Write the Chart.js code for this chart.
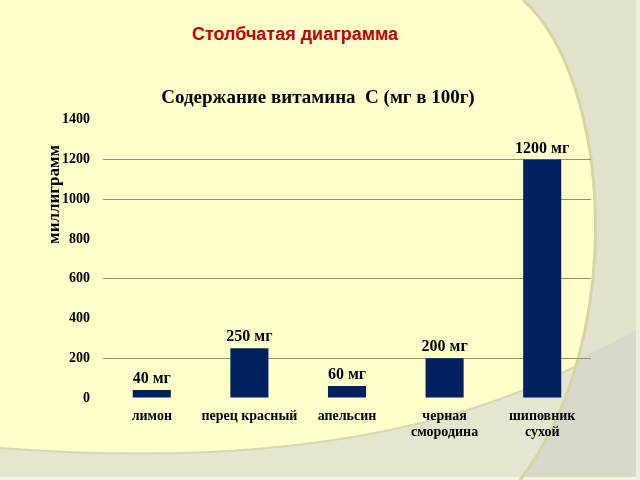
<!DOCTYPE html>
<html>
<head>
<meta charset="utf-8">
<script src="https://cdn.jsdelivr.net/npm/chart.js@4/dist/chart.umd.min.js"></script>
<style>
  html, body { margin: 0; padding: 0; }
  body { width: 640px; height: 480px; position: relative; overflow: hidden; background: #E2E2CD; }
  #bg { position: absolute; left: 0; top: 0; }
  #header { position: absolute; left: 0; top: 24px; width: 590px; text-align: center;
            font: bold 18px "Liberation Sans", Arial, sans-serif; color: #C00000; }
  #c { position: absolute; left: 0; top: 0; }
</style>
</head>
<body>
<svg id="bg" width="640" height="480" xmlns="http://www.w3.org/2000/svg">
  <defs>
    <clipPath id="leftOfArc"><path d="M-10,-10 H523 L523,0 C612,80 628,340 520,480 L520,490 H-10 Z"/></clipPath>
  </defs>
  <rect x="0" y="0" width="640" height="480" fill="#E2E2CD"/>
  <path d="M250,480 L640,480 L640,328 Q560,372 480,397 L250,470 Z" fill="#D9D9CB"/>
  <g clip-path="url(#leftOfArc)">
    <rect x="0" y="0" width="640" height="480" fill="#E6E5D0"/>
    <path d="M0,0 H640 V328 Q420,480 0,448 Z" fill="#FFFFCC"/>
    <path d="M640,328 Q420,480 0,448" fill="none" stroke="#D8D8B4" stroke-width="2"/>
  </g>
  <rect x="0" y="477" width="640" height="3" fill="#F4F3E1"/>
  <rect x="636" y="0" width="4" height="480" fill="#EFEFDC"/>
  <path d="M523,0 C612,80 628,340 520,480" fill="none" stroke="#D6D6A4" stroke-width="3"/>
</svg>
<div id="header">Столбчатая диаграмма</div>
<canvas id="c" width="640" height="480"></canvas>
<script>
const chartTitle = 'Содержание витамина  С (мг в 100г)';
const yAxisTitle = 'миллиграмм';
const categories = [['лимон'], ['перец красный'], ['апельсин'], ['черная', 'смородина'], ['шиповник', 'сухой']];
const values = [40, 250, 60, 200, 1200];
const valueLabels = ['40 мг', '250 мг', '60 мг', '200 мг', '1200 мг'];
const yMin = 0;
const yMax = 1400;
const yStep = 200;
const visibleGridValues = [200, 600, 1000, 1200];

const serif = '"Liberation Serif", "Times New Roman", serif';

const valueLabelPlugin = {
  id: 'valueLabels',
  afterDatasetsDraw(chart) {
    const ctx = chart.ctx;
    const meta = chart.getDatasetMeta(0);
    ctx.save();
    ctx.font = 'bold 16px ' + serif;
    ctx.fillStyle = '#000';
    ctx.textAlign = 'center';
    ctx.textBaseline = 'alphabetic';
    meta.data.forEach((bar, i) => {
      ctx.fillText(valueLabels[i], bar.x, bar.y - 7);
    });
    ctx.restore();
  }
};

const yTitlePlugin = {
  id: 'yTitle',
  afterDraw(chart) {
    const ctx = chart.ctx;
    const ys = chart.scales.y;
    const area = chart.chartArea;
    ctx.save();
    ctx.font = 'bold 17px ' + serif;
    ctx.fillStyle = '#000';
    ctx.textAlign = 'center';
    ctx.textBaseline = 'middle';
    ctx.translate(ys.left + 10, area.top + (area.bottom - area.top) * 0.268);
    ctx.rotate(-Math.PI / 2);
    ctx.fillText(yAxisTitle, 0, 0);
    ctx.restore();
  }
};

new Chart(document.getElementById('c'), {
  type: 'bar',
  data: {
    labels: categories,
    datasets: [{
      data: values,
      backgroundColor: '#002060',
      borderWidth: 0,
      categoryPercentage: 1,
      barPercentage: 0.39
    }]
  },
  options: {
    responsive: false,
    animation: false,
    devicePixelRatio: 1,
    layout: { padding: { left: 45, right: 49, top: 87, bottom: 0 } },
    plugins: {
      legend: { display: false },
      tooltip: { enabled: false },
      title: {
        display: true,
        text: chartTitle,
        color: '#000',
        font: { family: serif, size: 19, weight: 'bold', lineHeight: 1.2 },
        padding: { top: 0, bottom: 10 }
      }
    },
    scales: {
      y: {
        min: yMin,
        max: yMax,
        ticks: {
          stepSize: yStep,
          color: '#000',
          font: { family: serif, size: 14, weight: 'bold' },
          padding: 13,
          callback: (v) => String(v)
        },
        grid: {
          drawTicks: false,
          lineWidth: 1,
          color: (ctx) => (ctx.tick && visibleGridValues.includes(ctx.tick.value)) ? '#8F8F8A' : 'rgba(0,0,0,0)'
        },
        border: { display: false },
        afterFit(scale) { scale.width = 58; }
      },
      x: {
        grid: { display: false, drawTicks: false },
        border: { display: false },
        ticks: {
          color: '#000',
          font: { family: serif, size: 14, weight: 'bold', lineHeight: 1.1 },
          padding: 11,
          maxRotation: 0,
          autoSkip: false
        },
        afterFit(scale) { scale.height = 82; }
      }
    }
  },
  plugins: [valueLabelPlugin, yTitlePlugin]
});
</script>
</body>
</html>
